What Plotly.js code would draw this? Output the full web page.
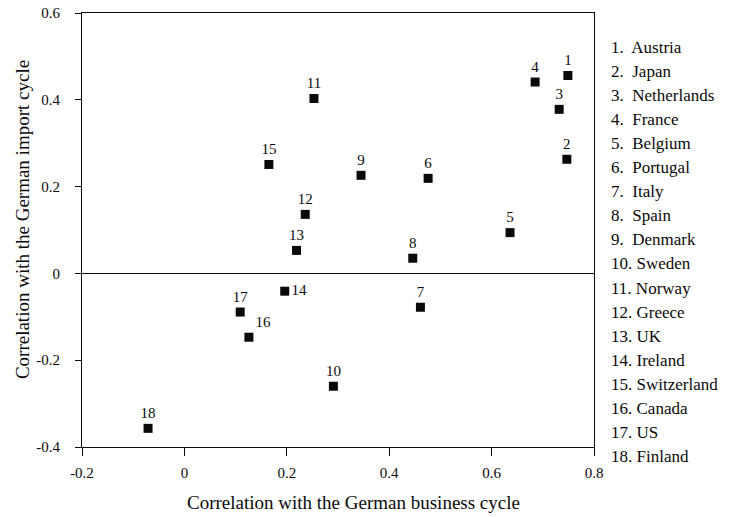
<!DOCTYPE html>
<html>
<head>
<meta charset="utf-8">
<script src="https://cdn.plot.ly/plotly-3.0.1.min.js"></script>
<style>html,body{margin:0;padding:0;background:#fff;}</style>
</head>
<body>
<div id="chart" style="width:734px;height:517px;"></div>
<script>
// Data
var ids = ["1","2","3","4","5","6","7","8","9","10","11","12","13","14","15","16","17","18"];
var countries = ["Austria","Japan","Netherlands","France","Belgium","Portugal","Italy","Spain","Denmark","Sweden","Norway","Greece","UK","Ireland","Switzerland","Canada","US","Finland"];
var businessCorr = [0.749, 0.747, 0.732, 0.685, 0.636, 0.476, 0.461, 0.446, 0.345, 0.291, 0.253, 0.236, 0.219, 0.196, 0.165, 0.126, 0.109, -0.071];
var importCorr = [0.456, 0.263, 0.378, 0.441, 0.094, 0.219, -0.078, 0.035, 0.226, -0.260, 0.403, 0.136, 0.053, -0.041, 0.251, -0.147, -0.089, -0.357];
var xTicks = [-0.2, 0, 0.2, 0.4, 0.6, 0.8];
var xTickText = ["-0.2", "0", "0.2", "0.4", "0.6", "0.8"];
var yTicks = [-0.4, -0.2, 0, 0.2, 0.4, 0.6];
var yTickText = ["-0.4", "-0.2", "0", "0.2", "0.4", "0.6"];
var xTitle = "Correlation with the German business cycle";
var yTitle = "Correlation with the German import cycle";

var serif = "Liberation Serif, Times New Roman, serif";
var ink = "#0a0a0a";

var positions = ids.map(function(id){
  if (id === "14") return "middle right";
  if (id === "16") return "top right";
  return "top center";
});

var trace = {
  type: "scatter",
  mode: "markers+text",
  x: businessCorr,
  y: importCorr,
  text: ids,
  textposition: positions,
  textfont: {family: serif, size: 15, color: ink},
  marker: {symbol: "square", size: 9, color: ink},
  cliponaxis: false,
  hoverinfo: "skip"
};

var annotations = ids.map(function(id, i){
  var pad = id.length === 1 ? "&nbsp; " : " ";
  return {
    xref: "paper", yref: "paper",
    x: 1.03, xanchor: "left",
    y: 1 - (34 + i * 24.1) / 434, yanchor: "middle",
    text: id + "." + pad + countries[i],
    showarrow: false,
    font: {family: serif, size: 17, color: ink}
  };
});

annotations.push({
  xref: "paper", yref: "paper", x: 0.531, y: -0.127,
  xanchor: "center", yanchor: "middle", showarrow: false,
  text: xTitle, font: {family: serif, size: 19, color: ink}
});
annotations.push({
  xref: "paper", yref: "paper", x: -0.117, y: 0.523,
  xanchor: "center", yanchor: "middle", showarrow: false, textangle: -90,
  text: yTitle, font: {family: serif, size: 19, color: ink}
});

var layout = {
  width: 734, height: 517,
  margin: {l: 82, r: 140, t: 13, b: 70},
  paper_bgcolor: "#fff", plot_bgcolor: "#fff",
  showlegend: false,
  xaxis: {
    range: [-0.2, 0.8],
    tickvals: xTicks, ticktext: xTickText,
    ticks: "outside", ticklen: 8, tickcolor: ink, tickwidth: 1,
    showline: true, linecolor: ink, linewidth: 1, mirror: true,
    showgrid: false, zeroline: false,
    tickfont: {family: serif, size: 15, color: ink},
    ticklabelstandoff: 4
  },
  yaxis: {
    range: [-0.4, 0.6],
    tickvals: yTicks, ticktext: yTickText,
    ticks: "outside", ticklen: 6, tickcolor: ink, tickwidth: 1,
    showline: true, linecolor: ink, linewidth: 1, mirror: true,
    showgrid: false, zeroline: true, zerolinecolor: ink, zerolinewidth: 1,
    tickfont: {family: serif, size: 15, color: ink},
    ticklabelstandoff: 12
  },
  annotations: annotations
};

Plotly.newPlot("chart", [trace], layout, {displayModeBar: false, staticPlot: true});
</script>
</body>
</html>
